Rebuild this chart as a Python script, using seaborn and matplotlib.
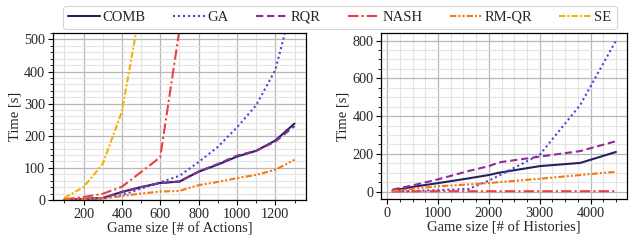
import numpy as np
import pandas as pd
import matplotlib
matplotlib.use("Agg")
import matplotlib.pyplot as plt
from matplotlib.ticker import MultipleLocator
from matplotlib import font_manager
import seaborn as sns

# ---------------- data ----------------
methods = ["COMB", "GA", "RQR", "NASH", "RM-QR", "SE"]

# left panel: game size in # of actions
x_act = [100, 200, 300, 400, 500, 600, 700, 800, 900, 1000, 1100, 1200, 1300]
act_comb = [2, 3, 6, 25, 40, 53, 57, 88, 110, 135, 153, 185, 238]
act_ga = [1, 2, 4, 15, 35, 55, 75, 118, 165, 226, 295, 405, 635]
act_rqr = [2, 3, 6, 24, 40, 52, 58, 88, 112, 138, 153, 182, 230]
x_act_nash = [100, 200, 300, 400, 500, 600, 700]
act_nash = [2, 9, 19, 41, 87, 133, 530]
act_rmqr = [1, 2, 5, 12, 20, 26, 28, 46, 56, 68, 78, 94, 125]
x_act_se = [100, 200, 300, 400, 500]
act_se = [6, 40, 112, 275, 610]

# right panel: game size in # of histories
x_hist = [100, 500, 1000, 1600, 2000, 2200, 3000, 3800, 4500]
hist_comb = [5, 25, 45, 70, 88, 100, 135, 152, 210]
hist_ga = [1, 3, 8, 14, 58, 85, 195, 460, 800]
hist_rqr = [10, 33, 65, 109, 135, 155, 185, 215, 267]
hist_nash = [1, 1, 2, 2, 2, 2, 2, 2, 2]
hist_rmqr = [3, 15, 28, 38, 45, 50, 68, 88, 105]

# ---------------- tables ----------------
def long(xs, ys, name):
    return pd.DataFrame({"x": xs, "y": ys, "method": name})

df_act = pd.concat([
    long(x_act, act_comb, "COMB"),
    long(x_act, act_ga, "GA"),
    long(x_act, act_rqr, "RQR"),
    long(x_act_nash, act_nash, "NASH"),
    long(x_act, act_rmqr, "RM-QR"),
    long(x_act_se, act_se, "SE"),
], ignore_index=True)

df_hist = pd.concat([
    long(x_hist, hist_comb, "COMB"),
    long(x_hist, hist_ga, "GA"),
    long(x_hist, hist_rqr, "RQR"),
    long(x_hist, hist_nash, "NASH"),
    long(x_hist, hist_rmqr, "RM-QR"),
], ignore_index=True)

# ---------------- style ----------------
sns.set_theme(style="ticks")

# find a Times-like serif font
names = {f.name for f in font_manager.fontManager.ttflist}
serif = None
for cand in ["Liberation Serif", "Times New Roman", "Nimbus Roman", "Tinos",
             "Noto Serif", "DejaVu Serif"]:
    if cand in names:
        serif = cand
        break
fams = [serif] if serif else []
fams.append("DejaVu Serif")
plt.rcParams["font.family"] = fams

palette = {
    "COMB": "#25205e",
    "GA": "#4b44d6",
    "RQR": "#8e2c96",
    "NASH": "#ec4040",
    "RM-QR": "#f5780f",
    "SE": "#f1b300",
}
dashes = {
    "COMB": "",
    "GA": (1, 1.4),
    "RQR": (3.5, 1.8),
    "NASH": (5, 1.5, 1, 1.5),
    "RM-QR": (3, 1, 1, 1, 1, 1),
    "SE": (3, 1, 1, 1),
}

fig = plt.figure(figsize=(6.29, 2.45), dpi=100)
ax1 = fig.add_axes([0.084, 0.184, 0.4025, 0.681])
ax2 = fig.add_axes([0.606, 0.188, 0.391, 0.677])

for ax, df in ((ax1, df_act), (ax2, df_hist)):
    present = [m for m in methods if m in set(df["method"])]
    sns.lineplot(data=df, x="x", y="y", hue="method", style="method",
                 hue_order=present, style_order=present,
                 palette=palette, dashes=dashes, linewidth=1.5,
                 ax=ax, legend=(ax is ax1))

# axes formatting
ax1.set_ylim(0, 520)
ax1.xaxis.set_major_locator(MultipleLocator(200))
ax1.xaxis.set_minor_locator(MultipleLocator(100))
ax1.yaxis.set_major_locator(MultipleLocator(100))
ax1.yaxis.set_minor_locator(MultipleLocator(20))
ax1.set_xlabel("Game size [# of Actions]", fontsize=10.5, labelpad=1)

ax2.xaxis.set_major_locator(MultipleLocator(1000))
ax2.xaxis.set_minor_locator(MultipleLocator(250))
ax2.yaxis.set_major_locator(MultipleLocator(200))
ax2.yaxis.set_minor_locator(MultipleLocator(50))
ax2.set_xlabel("Game size [# of Histories]", fontsize=10.5, labelpad=1)

for ax in (ax1, ax2):
    ax.set_ylabel("Time [s]", fontsize=10.5, labelpad=2)
    ax.grid(which="major", color="#b8b8b8", linewidth=0.9)
    ax.grid(which="minor", color="#e4e4e4", linewidth=0.8)
    ax.set_axisbelow(True)
    ax.tick_params(which="major", direction="out", length=3.5, width=0.8,
                   labelsize=10.3, pad=2, color="black")
    ax.tick_params(which="minor", direction="out", length=2, width=0.6,
                   color="black")
    for sp in ax.spines.values():
        sp.set_visible(True)
        sp.set_color("black")
        sp.set_linewidth(0.9)

handles, labels = ax1.get_legend_handles_labels()
ax1.get_legend().remove()
leg = fig.legend(handles, labels, loc="center", ncol=6,
                 bbox_to_anchor=(0.54, 0.929), frameon=True,
                 fontsize=10.5, handlelength=2.2, handletextpad=0.2,
                 columnspacing=1.85, borderpad=0.35, fancybox=True)
leg.get_frame().set_edgecolor("#cccccc")
leg.get_frame().set_linewidth(0.8)

fig.savefig("out.png", dpi=100)
